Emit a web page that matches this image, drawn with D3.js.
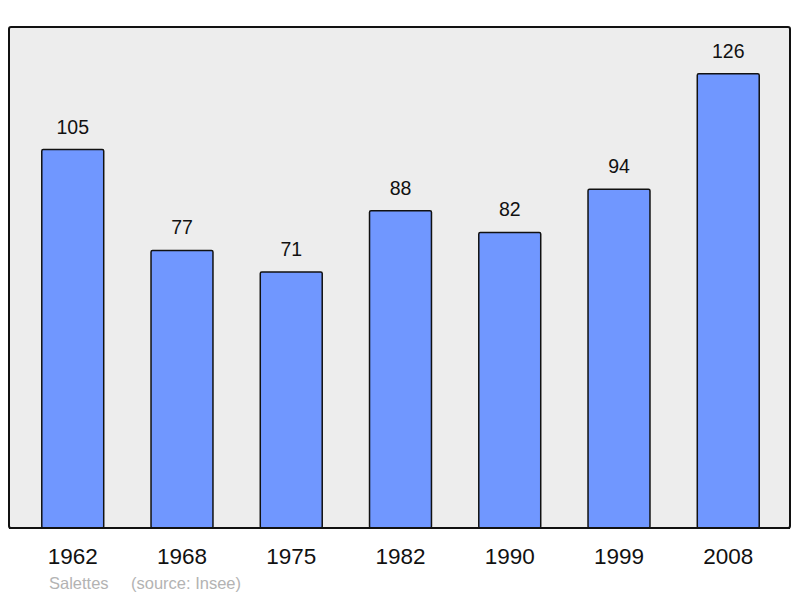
<!DOCTYPE html>
<html>
<head>
<meta charset="utf-8">
<script src="https://cdn.jsdelivr.net/npm/d3@7"></script>
<style>
  body { margin: 0; background: #ffffff; }
  svg { display: block; font-family: "Liberation Sans", Arial, sans-serif; }
</style>
</head>
<body>
<svg id="chart" width="800" height="598"></svg>
<script>
// data
var years = ["1962", "1968", "1975", "1982", "1990", "1999", "2008"];
var population = [105, 77, 71, 88, 82, 94, 126];
var townName = "Salettes";
var sourceText = "(source: Insee)";

var svg = d3.select("#chart");

// plot frame (note: "top" is taken by window.top, so use other names)
var plotLeft = 9, plotRight = 790, plotTop = 27, plotBottom = 528;

var xScale = d3.scaleBand()
    .domain(years)
    .range([plotLeft, plotRight + 2])
    .paddingInner(0.433)
    .paddingOuter(0.3);

var yScale = d3.scaleLinear()
    .domain([0, 139])
    .range([plotBottom, plotTop]);

// background panel
svg.append("rect")
    .attr("x", plotLeft)
    .attr("y", plotTop)
    .attr("width", plotRight - plotLeft)
    .attr("height", plotBottom - plotTop)
    .attr("rx", 2)
    .attr("fill", "#ededed")
    .attr("stroke", "#111")
    .attr("stroke-width", 2);

var rows = years.map(function(y, i) { return { year: y, value: population[i] }; });

// bars
svg.append("g")
    .selectAll("rect")
    .data(rows)
    .enter()
    .append("rect")
    .attr("x", function(d) { return xScale(d.year); })
    .attr("y", function(d) { return yScale(d.value); })
    .attr("width", xScale.bandwidth())
    .attr("height", function(d) { return plotBottom - yScale(d.value); })
    .attr("rx", 1.5)
    .attr("fill", "#7097ff")
    .attr("stroke", "#111")
    .attr("stroke-width", 1.5);

// value labels
svg.append("g")
    .selectAll("text")
    .data(rows)
    .enter()
    .append("text")
    .attr("x", function(d) { return xScale(d.year) + xScale.bandwidth() / 2; })
    .attr("y", function(d) { return yScale(d.value) - 16; })
    .attr("text-anchor", "middle")
    .attr("font-size", 19.5)
    .attr("fill", "#111")
    .text(function(d) { return d.value; });

// redraw frame bottom line over bars
svg.append("line")
    .attr("x1", plotLeft)
    .attr("x2", plotRight)
    .attr("y1", plotBottom)
    .attr("y2", plotBottom)
    .attr("stroke", "#111")
    .attr("stroke-width", 2);

// year labels
var xAxis = d3.axisBottom(xScale).tickSize(0).tickPadding(0);
var axisG = svg.append("g")
    .attr("transform", "translate(0," + plotBottom + ")")
    .call(xAxis);
axisG.select(".domain").remove();
axisG.selectAll("text")
    .attr("y", 36)
    .attr("dy", null)
    .attr("font-size", 22.5)
    .attr("font-family", "Liberation Sans, Arial, sans-serif")
    .attr("fill", "#111");

// footer
svg.append("text")
    .attr("x", 49)
    .attr("y", 589)
    .attr("font-size", 16.5)
    .attr("fill", "#b3b3b3")
    .text(townName);
svg.append("text")
    .attr("x", 131)
    .attr("y", 589)
    .attr("font-size", 16.5)
    .attr("fill", "#b3b3b3")
    .text(sourceText);
</script>
</body>
</html>
